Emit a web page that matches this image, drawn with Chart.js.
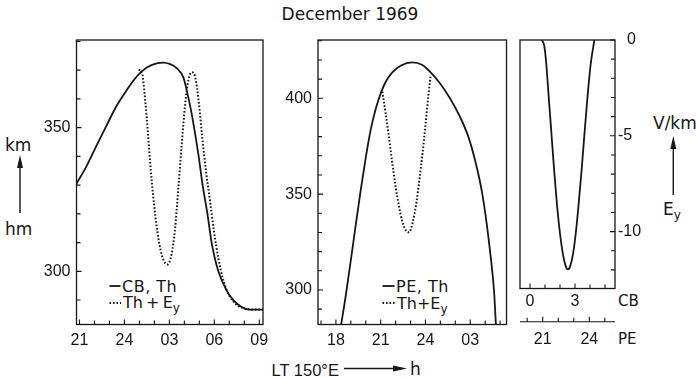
<!DOCTYPE html>
<html lang="en">
<head>
<meta charset="UTF-8">
<title>December 1969</title>
<script src="https://cdn.jsdelivr.net/npm/chart.js"></script>
<style>
  body { margin: 0; width: 696px; height: 378px; background: #fff; position: relative; overflow: hidden;
         font-family: 'DejaVu Sans', sans-serif; color: #161616; }
  canvas { position: absolute; }
  .t { position: absolute; white-space: nowrap; line-height: 1; }
  .sub { font-size: 12px; position: relative; top: 4px; }
  svg { position: absolute; left: 0; top: 0; pointer-events: none; }
</style>
</head>
<body>
  <div class="t" style="left:350px; top:5.6px; font-size:17px; transform:translateX(-50%)">December 1969</div>

  <div class="t" style="left:5px; top:136.6px; font-size:17px">km</div>
  <div class="t" style="left:5px; top:220.6px; font-size:17px">hm</div>
  <div class="t" style="left:653px; top:114.6px; font-size:17px">V/km</div>
  <div class="t" style="left:663px; top:200.6px; font-size:17px">E<span class="sub">y</span></div>

  <div class="t" style="left:618px; top:294px; font-size:15px">CB</div>
  <div class="t" style="left:618px; top:332.3px; font-size:15px">PE</div>

  <div class="t" style="left:271.5px; top:361.5px; font-size:16.5px; font-family:'Liberation Sans', sans-serif">LT 150°E</div>
  <div class="t" style="left:410px; top:361.1px; font-size:17px">h</div>

  <div class="t" style="left:122px; top:278.5px; font-size:16px; letter-spacing:0.5px">CB, Th</div>
  <div class="t" style="left:123px; top:295px; font-size:16px">Th&#8201;+&#8201;E<span class="sub">y</span></div>
  <div class="t" style="left:396px; top:278.5px; font-size:16px; letter-spacing:0.5px">PE, Th</div>
  <div class="t" style="left:397px; top:295.5px; font-size:16px">Th+E<span class="sub">y</span></div>

  <canvas id="cbChart" width="275" height="350" style="left:0; top:0"></canvas>
  <canvas id="peChart" width="250" height="350" style="left:270px; top:0"></canvas>
  <canvas id="eyChart" width="191" height="360" style="left:505px; top:0"></canvas>

  <svg width="696" height="378">
    <g stroke="#161616" fill="#161616" stroke-width="1.4">
      <line x1="20" y1="213" x2="20" y2="164"/>
      <polygon points="20,155 17,168 23,168" stroke="none"/>
      <line x1="673.3" y1="195" x2="673.3" y2="146"/>
      <polygon points="673.3,136 670.3,149 676.3,149" stroke="none"/>
      <line x1="344" y1="368.5" x2="395" y2="368.5"/>
      <polygon points="407,368.5 393,365.5 393,371.5" stroke="none"/>
      <line x1="109.5" y1="286" x2="120.5" y2="286" stroke-width="1.8"/>
      <line x1="109.5" y1="303" x2="121" y2="303" stroke-width="2" stroke-dasharray="1.6 1.9"/>
      <line x1="382.5" y1="286" x2="394.5" y2="286" stroke-width="1.8"/>
      <line x1="382.5" y1="303" x2="395" y2="303" stroke-width="2" stroke-dasharray="1.6 1.9"/>
    </g>
  </svg>

  <script>
    const ink = '#161616';

    // left panel: CB, Th and Th + Ey (hours after 21 LT run on past 24)
    const cbTime = [20.8, 21.49, 22.16, 22.82, 23.49, 24.16, 24.82, 25.49, 26.16, 26.6, 27.05, 27.49, 27.94,
                    28.2, 28.42, 28.65, 28.94, 29.22, 29.54, 29.82, 30.27, 30.82, 31.27, 31.82, 32.38, 33.25];
    const cbTh = [330.5, 336.8, 344, 350.9, 357.7, 363.1, 367.8, 370.9, 372.4, 372.6, 372.1, 370.7, 367.4,
                  362, 356.7, 350, 340.5, 330, 320, 310, 300, 293.4, 290, 287.6, 286.7, 286.7];
    const cbEyTime = [24.94, 25.16, 25.31, 25.49, 25.71, 25.98, 26.27, 26.56, 26.87, 27.16, 27.38, 27.6, 27.82,
                      28.05, 28.27, 28.51, 28.74, 28.96, 29.18, 29.45, 29.72, 29.98, 30.27, 30.6, 31.05, 31.49,
                      32.05, 32.5, 33.25];
    const cbThEy = [370.1, 369.5, 363.7, 353.3, 338.2, 323.1, 311.4, 304.5, 302.4, 306.2, 314.9, 328.9, 344,
                    357.9, 366.6, 369.3, 367.2, 359.1, 347.4, 334.7, 324.2, 313.8, 304.5, 296.9, 291.1, 288.4,
                    287, 286.7, 286.7];
    const cbTickHours = [21, 24, 27, 30, 33];
    const cbTickLabels = ['21', '24', '03', '06', '09'];
    const cbHeightTicks = [300, 350];

    // middle panel: PE, Th and Th + Ey
    const peTime = [18.35, 18.66, 18.99, 19.33, 19.66, 20.0, 20.33, 20.67, 21.0, 21.33, 21.78, 22.34, 23.1,
                    23.79, 24.3, 24.97, 25.64, 26.31, 26.87, 27.32, 27.76, 28.1, 28.37, 28.59, 28.72];
    const peTh = [282, 297, 315, 334, 352, 369, 383.5, 394.5, 402.5, 408.5, 413.5, 417, 418.7,
                  417.4, 413.9, 407.8, 400, 390.4, 380, 367.8, 352.2, 334.8, 317.4, 300, 282];
    const peEyTime = [21.11, 21.33, 21.56, 21.78, 22.0, 22.23, 22.45, 22.67, 22.9, 23.15, 23.4, 23.6, 23.8,
                      24.0, 24.19, 24.35];
    const peThEy = [403.5, 392.2, 379.1, 366.1, 353.9, 343.5, 335.7, 331.3, 330.1, 335.5, 346, 358, 371,
                    386, 401, 412.2];
    const peTickHours = [18, 21, 24, 27];
    const peTickLabels = ['18', '21', '24', '03'];
    const peHeightTicks = [300, 350, 400];

    // right panel: Ey against CB time, with the PE time axis below
    const eyTime = [0.78, 0.95, 1.08, 1.25, 1.44, 1.62, 1.8, 2.0, 2.2, 2.38, 2.52, 2.68, 2.86, 3.05, 3.25,
                    3.44, 3.62, 3.82, 4.04, 4.29];
    const eyValue = [0, -0.3, -1.2, -3.0, -5, -6.9, -8.6, -10.1, -11.2, -11.8, -11.97, -11.8, -11.2, -10.1,
                     -8.5, -6.8, -5, -3.1, -1.3, 0];
    const eyCbTicks = [0, 3];
    const eyPeTicks = [21, 24];
    const eyFieldTicks = [0, -5, -10];
    const eyFieldLabels = ['\u20070', '-5', '-10'];

    const xy = (xs, ys) => xs.map((x, i) => ({ x: x, y: ys[i] }));

    Chart.defaults.font.family = "'Liberation Sans', sans-serif";
    Chart.defaults.font.size = 16;
    Chart.defaults.color = ink;

    // frame round the plot area and short tick marks pointing inwards
    const frameTicks = {
      id: 'frameTicks',
      afterDraw(chart, args, opts) {
        const ctx = chart.ctx, a = chart.chartArea;
        ctx.save();
        ctx.strokeStyle = ink;
        ctx.lineWidth = 1.3;
        ctx.strokeRect(a.left, a.top, a.right - a.left, a.bottom - a.top);
        ctx.lineWidth = 1.1;
        ctx.beginPath();
        (opts.marks || []).forEach(m => {
          const s = chart.scales[m.scale];
          if (m.edge === 'below') {
            ctx.moveTo(a.left, s.top);
            ctx.lineTo(a.right, s.top);
          }
          s.ticks.forEach(t => {
            const p = s.getPixelForValue(t.value);
            const len = t.label !== '' ? m.major : m.len;
            if (m.edge === 'bottom') { ctx.moveTo(p, a.bottom); ctx.lineTo(p, a.bottom - len); }
            if (m.edge === 'below') { ctx.moveTo(p, s.top); ctx.lineTo(p, s.top - len); }
            if (m.edge === 'left') { ctx.moveTo(a.left, p); ctx.lineTo(a.left + len, p); }
            if (m.edge === 'right') { ctx.moveTo(a.right, p); ctx.lineTo(a.right - len, p); }
          });
        });
        ctx.stroke();
        ctx.restore();
      }
    };

    function solid(points) {
      return { data: points, borderColor: ink, borderWidth: 1.8, pointRadius: 0,
               cubicInterpolationMode: 'monotone', fill: false };
    }
    function dotted(points) {
      return { data: points, borderColor: ink, borderWidth: 2, borderDash: [1.6, 1.9], pointRadius: 0,
               cubicInterpolationMode: 'monotone', fill: false };
    }
    function labelFrom(values, labels) {
      return v => { const i = values.indexOf(v); return i >= 0 ? labels[i] : ''; };
    }
    function axis(min, max, step, callback, padding, fit) {
      return {
        type: 'linear', min: min, max: max,
        grid: { display: false, drawTicks: false }, border: { display: false },
        ticks: { stepSize: step, includeBounds: false, autoSkip: false, maxRotation: 0,
                 maxTicksLimit: 100, padding: padding, callback: callback },
        afterFit: fit
      };
    }
    function baseOptions(padding, scales, marks) {
      return {
        responsive: false, animation: false, events: [],
        layout: { padding: padding },
        scales: scales,
        plugins: { legend: { display: false }, tooltip: { enabled: false }, frameTicks: { marks: marks } }
      };
    }

    new Chart(document.getElementById('cbChart'), {
      type: 'line',
      data: { datasets: [solid(xy(cbTime, cbTh)), dotted(xy(cbEyTime, cbThEy))] },
      options: baseOptions({ top: 40, right: 12 }, {
        x: axis(20.8, 33.25, 1, labelFrom(cbTickHours, cbTickLabels), 6, s => { s.height = 25.5; }),
        y: axis(281.5, 380.5, 10, labelFrom(cbHeightTicks, cbHeightTicks.map(String)), 6, s => { s.width = 76.5; })
      }, [
        { scale: 'x', edge: 'bottom', len: 4, major: 5 },
        { scale: 'y', edge: 'left', len: 4, major: 5 }
      ]),
      plugins: [frameTicks]
    });

    new Chart(document.getElementById('peChart'), {
      type: 'line',
      data: { datasets: [solid(xy(peTime, peTh)), dotted(xy(peEyTime, peThEy))] },
      options: baseOptions({ top: 40, right: 13.5 }, {
        x: axis(16.8, 29.43, 1, labelFrom(peTickHours, peTickLabels), 6, s => { s.height = 25.5; }),
        y: axis(282, 430.4, 10, labelFrom(peHeightTicks, peHeightTicks.map(String)), 6, s => { s.width = 48; })
      }, [
        { scale: 'x', edge: 'bottom', len: 4, major: 5 },
        { scale: 'y', edge: 'left', len: 4, major: 5 }
      ]),
      plugins: [frameTicks]
    });

    new Chart(document.getElementById('eyChart'), {
      type: 'line',
      data: { datasets: [solid(xy(eyTime, eyValue))] },
      options: baseOptions({ top: 40, left: 15 }, {
        x: Object.assign(axis(-0.667, 5.667, 1, labelFrom(eyCbTicks, eyCbTicks.map(String)), 3,
                              s => { s.height = 33.2; }), { position: 'bottom', weight: 0 }),
        x2: Object.assign(axis(19.54, 25.65, 1, labelFrom(eyPeTicks, eyPeTicks.map(String)), 8,
                               s => { s.height = 38.3; }), { position: 'bottom', weight: 1 }),
        y: Object.assign(axis(-12.97, 0, 1, labelFrom(eyFieldTicks, eyFieldLabels), 3,
                              s => { s.width = 81; }), { position: 'right' })
      }, [
        { scale: 'x', edge: 'bottom', len: 4, major: 5 },
        { scale: 'x2', edge: 'below', len: 4, major: 5 },
        { scale: 'y', edge: 'right', len: 4, major: 5 }
      ]),
      plugins: [frameTicks]
    });
  </script>
</body>
</html>
